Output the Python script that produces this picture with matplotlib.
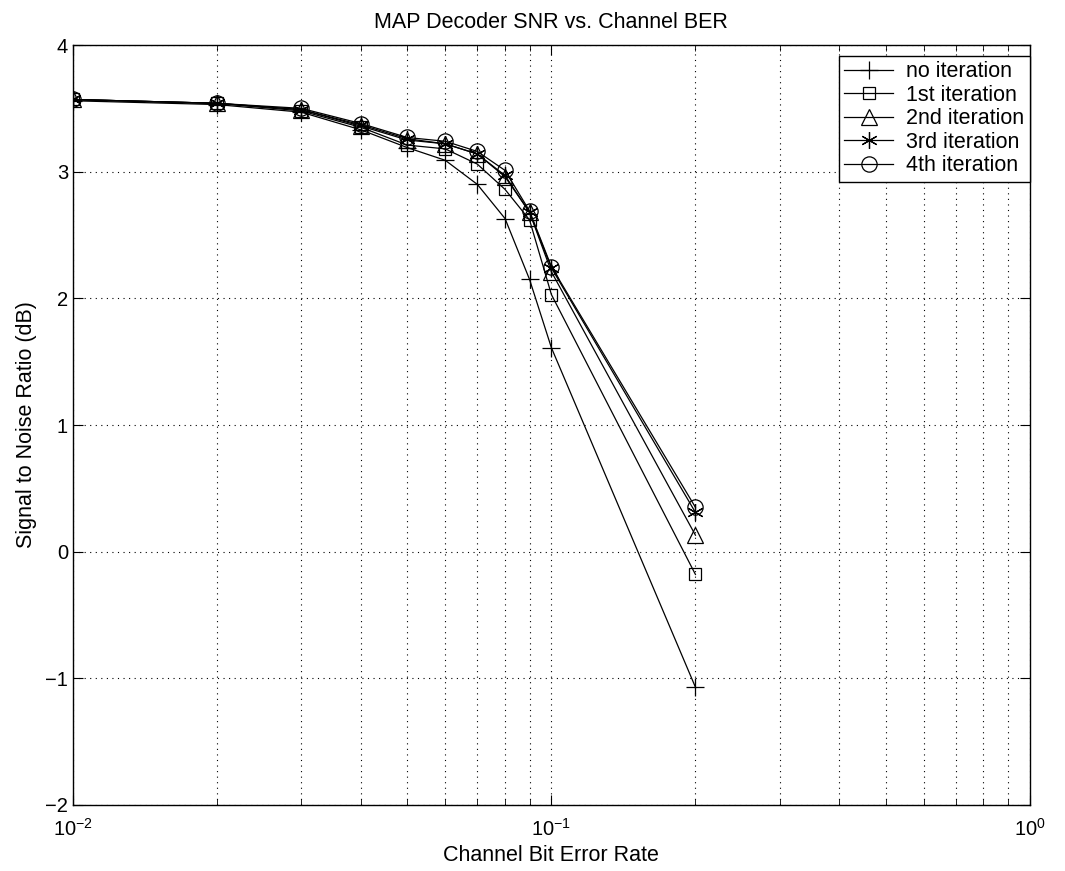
import matplotlib
matplotlib.use("Agg")
import matplotlib.pyplot as plt
import numpy as np
from matplotlib.ticker import LogLocator, NullFormatter

plt.rcParams['font.family'] = ['Liberation Sans', 'DejaVu Sans']

# Data
ber = [0.01, 0.02, 0.03, 0.04, 0.05, 0.06, 0.07, 0.08, 0.09, 0.1, 0.2]
snr_iter0 = [3.56, 3.53, 3.47, 3.33, 3.19, 3.09, 2.90, 2.63, 2.15, 1.61, -1.07]
snr_iter1 = [3.57, 3.54, 3.48, 3.35, 3.21, 3.18, 3.06, 2.86, 2.62, 2.03, -0.18]
snr_iter2 = [3.57, 3.54, 3.49, 3.36, 3.25, 3.22, 3.14, 2.96, 2.68, 2.21, 0.13]
snr_iter3 = [3.57, 3.54, 3.49, 3.37, 3.26, 3.22, 3.14, 2.97, 2.68, 2.24, 0.31]
snr_iter4 = [3.57, 3.54, 3.50, 3.38, 3.27, 3.24, 3.16, 3.01, 2.69, 2.25, 0.35]
labels = ["no iteration", "1st iteration", "2nd iteration", "3rd iteration", "4th iteration"]
markers = ["+", "s", "^", (6, 2, 0), "o"]
sizes = [13, 9, 12, 12, 11]

fig = plt.figure(figsize=(10.65, 8.71), dpi=100)
ax = fig.add_axes([0.0685, 0.0758, 0.8985, 0.8725])

for y, lab, m, ms in zip([snr_iter0, snr_iter1, snr_iter2, snr_iter3, snr_iter4], labels, markers, sizes):
    ax.plot(ber, y, color='black', lw=0.9, marker=m, markersize=ms,
            mfc='none', mec='black', mew=0.9, label=lab)

ax.set_xscale('log')
ax.set_xlim(1e-2, 1e0)
ax.set_ylim(-2, 4)
ax.set_yticks([-2, -1, 0, 1, 2, 3, 4])
ax.set_yticklabels(['\u22122', '\u22121', '0', '1', '2', '3', '4'])
ax.xaxis.set_minor_locator(LogLocator(base=10, subs=np.arange(2, 10)))
ax.xaxis.set_minor_formatter(NullFormatter())

ax.grid(True, which='major', linestyle=(0, (1, 4)), color='black', lw=0.8)
ax.grid(True, which='minor', axis='x', linestyle=(0, (1, 4)), color='black', lw=0.8)
ax.tick_params(which='both', direction='in', top=True, right=True, labelsize=14.5)
ax.tick_params(which='major', length=7)
ax.tick_params(which='minor', length=4)
ax.tick_params(axis='x', which='major', pad=9)
for s in ax.spines.values():
    s.set_linewidth(1.0)

ax.set_title("MAP Decoder SNR vs. Channel BER", fontsize=15.5, pad=12)
ax.set_xlabel("Channel Bit Error Rate", fontsize=15.5, labelpad=4)
ax.set_ylabel("Signal to Noise Ratio (dB)", fontsize=15.5, labelpad=6)

leg = ax.legend(loc='upper right', fontsize=15.5, fancybox=False, edgecolor='black',
                framealpha=1, borderaxespad=0.0, bbox_to_anchor=(1.0, 0.986),
                handlelength=2.3, labelspacing=0.12, borderpad=0.25, handletextpad=0.6)
leg.get_frame().set_linewidth(1.0)

fig.savefig("out.png", dpi=100)
